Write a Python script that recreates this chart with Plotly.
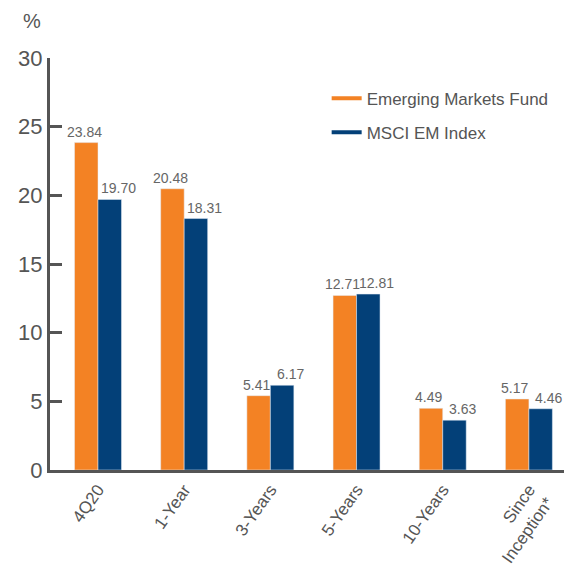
import plotly.graph_objects as go

categories = ["4Q20", "1-Year", "3-Years", "5-Years", "10-Years", "Since<br>Inception*"]
fund = [23.84, 20.48, 5.41, 12.71, 4.49, 5.17]
index = [19.70, 18.31, 6.17, 12.81, 3.63, 4.46]
series_names = ["Emerging Markets Fund", "MSCI EM Index"]
colors = ["#F38224", "#034078"]
y_ticks = [0, 5, 10, 15, 20, 25, 30]

FONT = "Liberation Sans, Arial, sans-serif"
GRAY = "#555555"

fig = go.Figure()
for name, vals, col in zip(series_names, [fund, index], colors):
    fig.add_trace(go.Bar(x=categories, y=vals, marker_color=col, showlegend=False))
for i, (name, col) in enumerate(zip(series_names, colors)):
    fig.add_trace(go.Scatter(
        x=[None], y=[None], mode="lines", name=name, legendgroup=f"g{i}",
        line=dict(color=col, width=4),
    ))

annotations = []
for vals, shift in [(fund, -14), (index, 20)]:
    for c, v in zip(categories, vals):
        annotations.append(dict(
            x=c, y=v, xref="x", yref="y", text=f"{v:.2f}", showarrow=False,
            xanchor="center", yanchor="bottom", xshift=shift, yshift=1,
            font=dict(size=14, color="#666666", family=FONT),
        ))
annotations.append(dict(text="%", xref="paper", yref="paper",
                        x=-0.035, y=1.09, xanchor="center", yanchor="middle",
                        showarrow=False, font=dict(size=20, color=GRAY, family=FONT)))

fig.update_layout(
    width=564, height=559,
    margin=dict(l=42, r=0, t=50, b=97),
    plot_bgcolor="white", paper_bgcolor="white",
    barmode="group", bargap=0.455, bargroupgap=0,
    font=dict(family=FONT, color=GRAY),
    legend=dict(x=0.53, y=0.945, xanchor="left", yanchor="top",
                font=dict(size=17, color=GRAY, family=FONT),
                bgcolor="rgba(0,0,0,0)", itemwidth=30, tracegroupgap=9),
    annotations=annotations,
)
fig.update_xaxes(
    range=[-0.557, 5.5], showline=True, linewidth=3, linecolor=GRAY,
    ticks="", tickangle=-55, tickfont=dict(size=17, color=GRAY, family=FONT),
    showgrid=False, zeroline=False, automargin=False,
)
fig.update_yaxes(
    range=[0, 30], tickvals=y_ticks, showline=True, linewidth=3, linecolor=GRAY,
    ticks="inside", ticklen=12, tickwidth=3, tickcolor=GRAY,
    tickfont=dict(size=22, color=GRAY, family=FONT),
    showgrid=False, zeroline=False, automargin=False,
)
fig.write_html("out.html")
